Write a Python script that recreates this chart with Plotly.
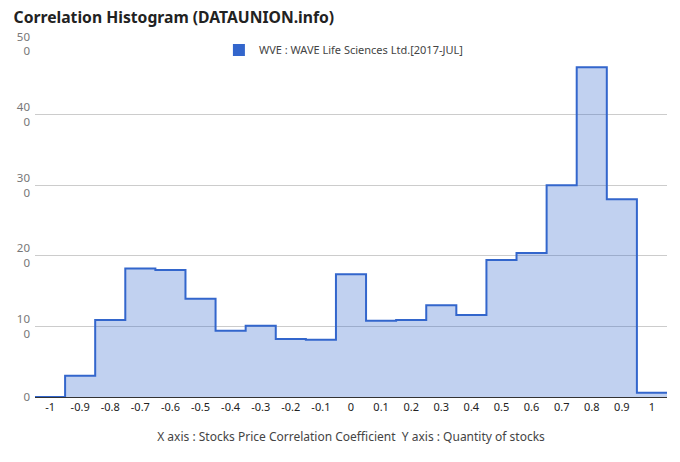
import plotly.graph_objects as go

# Data
bin_centers = [-1.0, -0.9, -0.8, -0.7, -0.6, -0.5, -0.4, -0.3, -0.2, -0.1,
               0.0, 0.1, 0.2, 0.3, 0.4, 0.5, 0.6, 0.7, 0.8, 0.9, 1.0]
counts = [0, 30, 109, 182, 180, 139, 94, 101, 82, 81,
          174, 108, 109, 130, 116, 194, 204, 300, 467, 280, 6]
x_ticks = [-1.0, -0.9, -0.8, -0.7, -0.6, -0.5, -0.4, -0.3, -0.2, -0.1,
           0.0, 0.1, 0.2, 0.3, 0.4, 0.5, 0.6, 0.7, 0.8, 0.9, 1.0]
x_tick_labels = ["-1", "-0.9", "-0.8", "-0.7", "-0.6", "-0.5", "-0.4", "-0.3", "-0.2", "-0.1",
                 "0", "0.1", "0.2", "0.3", "0.4", "0.5", "0.6", "0.7", "0.8", "0.9", "1"]
y_ticks = [0, 100, 200, 300, 400, 500]
y_tick_labels = ["0", "10<br>0", "20<br>0", "30<br>0", "40<br>0", "50<br>0"]
series_name = "WVE : WAVE Life Sciences Ltd.[2017-JUL]"

# step edges derived from bin centres
half = 0.05
step_x = [c - half for c in bin_centers] + [bin_centers[-1] + half]
step_y = counts + [counts[-1]]

FONT = "Noto Sans"
BLUE = "#3366CC"

fig = go.Figure()
fig.add_trace(go.Scatter(
    x=step_x, y=step_y, mode="lines", line=dict(shape="hv", color=BLUE, width=2),
    fill="tozeroy", fillcolor="rgba(51,102,204,0.3)", showlegend=False, hoverinfo="skip"))
fig.add_trace(go.Scatter(
    x=[None], y=[None], mode="markers", name=series_name,
    marker=dict(symbol="square", size=12, color=BLUE)))

fig.update_layout(
    width=680, height=462,
    margin=dict(l=35, r=13, t=44, b=65),
    paper_bgcolor="white", plot_bgcolor="white",
    font=dict(family=FONT, size=11, color="#444"),
    title=dict(text="<b>Correlation Histogram (DATAUNION.info)</b>", x=0.02, xanchor="left",
               y=0.962, yanchor="middle", font=dict(size=15.7, color="#222", family=FONT)),
    legend=dict(orientation="h", x=0.488, xanchor="center", y=0.983, yanchor="middle",
                bgcolor="rgba(0,0,0,0)", font=dict(size=11, color="#444"),
                itemwidth=30),
    xaxis=dict(range=[-1.05, 1.05], tickvals=x_ticks, ticktext=x_tick_labels,
               showgrid=False, zeroline=False, showline=True, linecolor="#333", linewidth=1,
               tickfont=dict(size=11, color="#222"), ticks="", automargin=False,
               title=dict(text="X axis : Stocks Price Correlation Coefficient  Y axis : Quantity of stocks",
                          font=dict(size=12, color="#444"), standoff=19)),
    yaxis=dict(range=[0, 500], tickvals=y_ticks, ticktext=y_tick_labels,
               showgrid=True, gridcolor="#cccccc", gridwidth=1, zeroline=False, automargin=False,
               tickfont=dict(size=11.5, color="#777"), ticks="", ticklabelstandoff=4),
)

fig.write_html("out.html", config={"displayModeBar": False},
               post_script="document.body.style.margin='0';")
